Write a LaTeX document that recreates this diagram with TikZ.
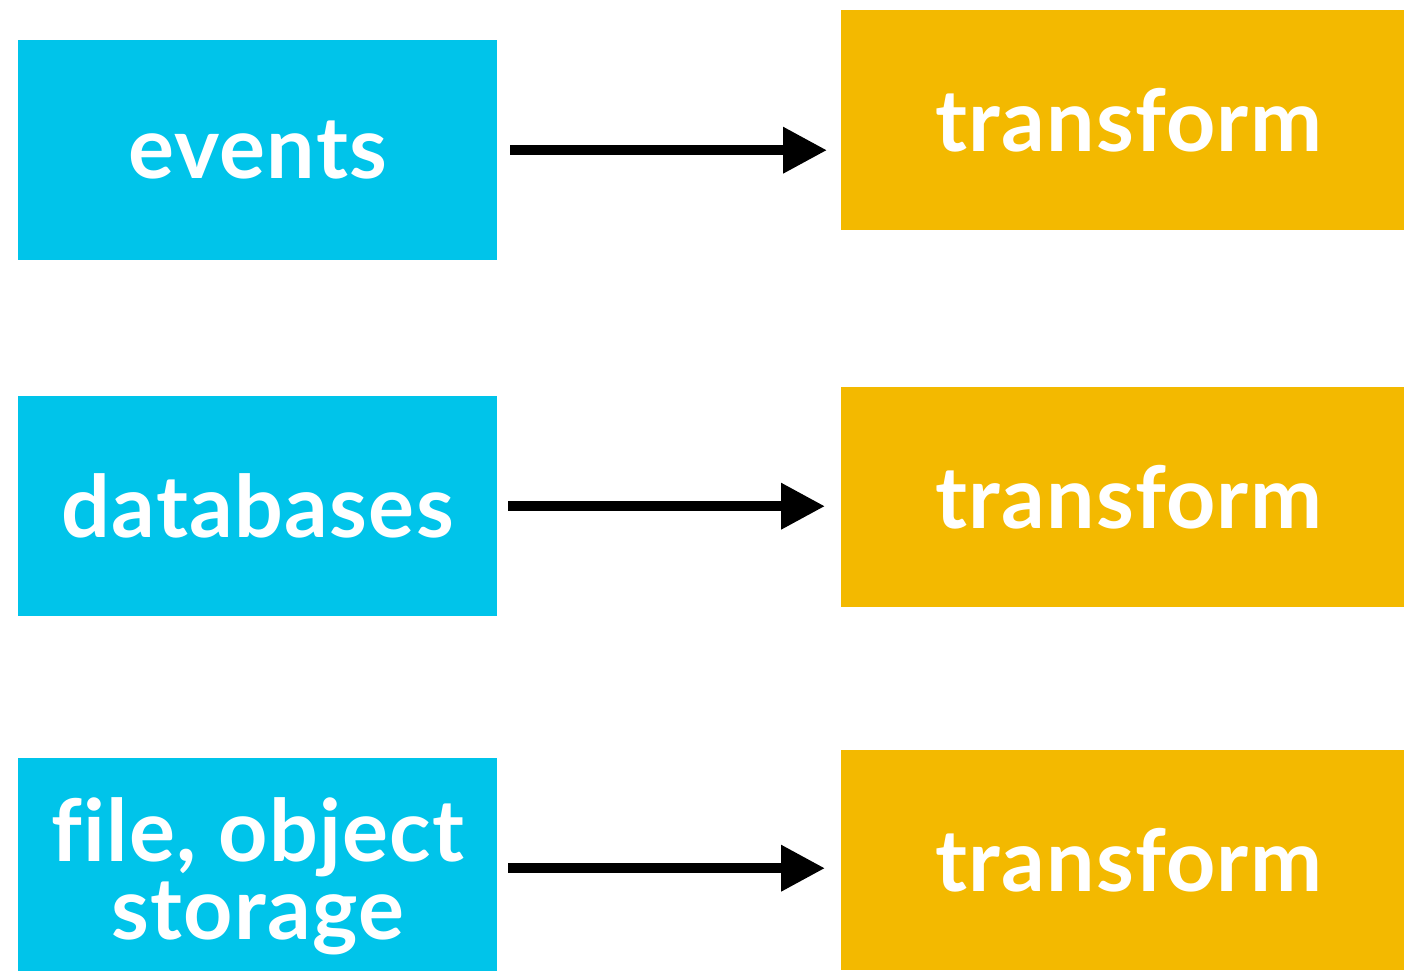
\documentclass[tikz,border=0pt]{standalone}
\usepackage{fontspec}
\setmainfont{Lato}[Ligatures=NoCommon, LetterSpace=1.5]
\usetikzlibrary{arrows.meta}
\definecolor{srcblue}{RGB}{0,196,234}
\definecolor{stepgold}{RGB}{243,185,0}
\tikzset{
  label text/.style={text=white, font=\fontsize{86}{78}\selectfont\bfseries},
  srcbox/.style={rectangle, fill=srcblue, anchor=north west, inner sep=0pt,
    minimum width=479pt, label text},
  tfbox/.style={rectangle, fill=stepgold, anchor=north west, inner sep=0pt,
    minimum width=563pt, minimum height=220pt, label text},
  flow/.style={line width=10pt, -{Triangle[length=44pt,width=44pt]}}
}
\newcommand{\tflabel}{\hspace*{12pt}transform}
\begin{document}
\begin{tikzpicture}[x=1pt,y=-1pt]
  \useasboundingbox (0,0) rectangle (1404,972);
  % sources
  \node[srcbox, minimum height=220pt] (ev) at (18,40) {events};
  \node[srcbox, minimum height=220pt] (db) at (18,396) {databases};
  \node[srcbox, minimum height=213pt] (fs) at (18,758) {};
  \node[label text, align=center, inner sep=0pt] (fslabel)
    at ([yshift=-12pt]fs.center) {file, object\\storage};
  % transforms
  \node[tfbox] (t1) at (841,10) {\tflabel};
  \node[tfbox] (t2) at (841,387) {\tflabel};
  \node[tfbox] (t3) at (841,750) {\tflabel};
  % connectors
  \draw[flow, shorten <=13pt, shorten >=14pt] (ev.east) -- (ev.east -| t1.west);
  \draw[flow, shorten <=11pt, shorten >=16pt] (db.east) -- (db.east -| t2.west);
  \coordinate (fsout) at ([yshift=-3.5pt]fs.east);
  \draw[flow, shorten <=11pt, shorten >=16pt] (fsout) -- (fsout -| t3.west);
\end{tikzpicture}
\end{document}
